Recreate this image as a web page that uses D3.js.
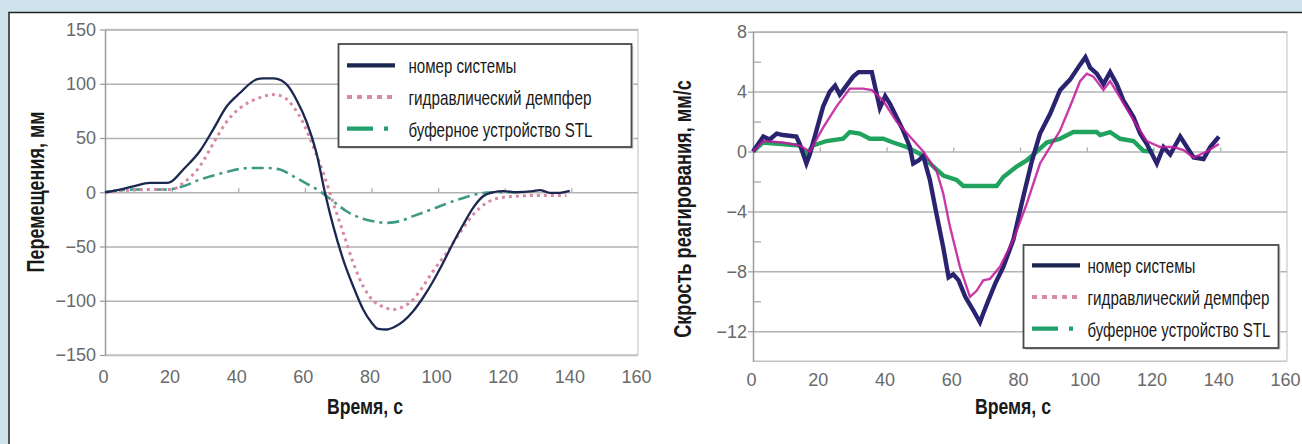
<!DOCTYPE html>
<html><head><meta charset="utf-8">
<script src="https://cdn.jsdelivr.net/npm/d3@7"></script>
<style>body{margin:0;background:#cfe3ed;overflow:hidden} svg{display:block}</style>
</head><body>
<svg id="c" width="1302" height="444"></svg>
<script>
// ---------- data ----------
const xTicks = [0, 20, 40, 60, 80, 100, 120, 140, 160];
const dispTicks = [-150, -100, -50, 0, 50, 100, 150];
const velTicks = [-12, -8, -4, 0, 4, 8];
const velMinorTicks = [-10, -6, -2, 2, 6];
const seriesNames = ["номер системы", "гидравлический демпфер", "буферное устройство STL"];
const dispTitle = "Перемещения, мм";
const velTitle = "Скрость реагирования, мм/с";
const timeTitle = "Время, с";

// displacement, [time s, mm]
const dispSystem = [[0,0],[4.5,2.5],[8.5,5.5],[13.5,8.6],[18.5,8.6],[20,10],[23.5,21],[28.5,38],[32.5,58],[36.5,79],[40.5,91.5],[45.5,104],[47.5,105],[50.5,105],[53,103],[55,97.6],[57.5,85],[60.5,65],[63.5,36],[66,0],[68.5,-31],[71.5,-62],[74.5,-86.6],[77.5,-108],[80,-120],[82,-126],[84.5,-126.5],[87,-124],[89.5,-119],[92.5,-109.6],[95.5,-97],[98.5,-82],[101.5,-65],[104.5,-46.7],[107.5,-30],[110.5,-14.4],[113.5,-3.7],[116.5,0],[119.5,1],[123.5,0],[128.5,1],[130.5,2],[133.5,-0.5],[136.5,-0.5],[139.5,1.2]];
const dispDamper = [[0,0],[8.5,2],[13.5,2.5],[20,2.5],[23.5,8.6],[28.5,24],[32.5,45],[36.5,65],[40.5,77.6],[45.5,86],[50.5,90],[53.5,88],[56.5,79],[59.5,64],[62.5,42],[65.5,18],[68.5,-10],[71.5,-37],[74.5,-65],[77.5,-86.6],[80.5,-100],[83.5,-105.6],[86.5,-108],[89.5,-105.6],[92.5,-99],[95.5,-86.6],[98.5,-72.7],[102.5,-56],[106.5,-37.4],[110.5,-20.6],[114.5,-9.8],[118.5,-5.2],[123.5,-3.7],[128.5,-3],[133.5,-3],[138.5,-3]];
const dispBuffer = [[0,0],[8.5,2.5],[18.5,2.5],[23.5,5.5],[28.5,11.7],[33.5,16.3],[38.5,20.3],[43.5,22.4],[48.5,22.4],[52.5,20.9],[56.5,14.7],[60.5,8],[64.5,1],[68.5,-8.3],[72.5,-17.5],[76.5,-23.6],[80.5,-26.7],[84.5,-28.2],[88.5,-26.7],[92.5,-22],[96.5,-17.5],[100.5,-12.9],[104.5,-8.3],[108.5,-4.3],[112.5,-1.2],[116.5,0],[123.5,0]];

// response velocity, [time s, mm/s]
const velSystem = [[0,0],[3.1,1],[5,0.8],[7.1,1.2],[9,1.1],[13,1],[14,0.5],[16,-0.8],[17,-0.2],[19,1.4],[21,3],[23,4],[24.6,4.4],[26,3.8],[28,4.4],[30,5],[31.6,5.3],[35.6,5.3],[36.6,4.3],[38,2.9],[39.6,3.7],[41,3.2],[43,2.3],[45,1.4],[47,0.3],[48,-0.8],[49.6,-0.6],[51,-0.3],[53,-1.9],[55,-4.2],[57,-6.4],[58.6,-8.4],[60,-8.2],[61.6,-8.6],[63.6,-9.7],[66,-10.6],[68,-11.4],[69,-10.8],[70.6,-9.9],[72.6,-8.8],[75,-7.7],[78,-5.9],[81,-3],[83.6,-0.6],[86,1.2],[89,2.5],[92,4.1],[95,4.8],[98,5.8],[99.6,6.3],[101,5.6],[103,5.2],[105,4.5],[107,5.3],[109,4.5],[111,3.4],[114,2.3],[116,1.2],[118,0.5],[121,-0.8],[123,0.3],[125,-0.2],[128,1],[130,0.3],[132,-0.4],[135,-0.5],[137,0.3],[139.6,1]];
const velDamper = [[0,0],[3.1,0.7],[9,0.6],[14,0.4],[17,0],[21,1.6],[25,3],[29,4.2],[33,4.2],[35.6,4.1],[39,3.4],[43,2],[47,1],[51,0],[55,-1.3],[57,-2.8],[59,-5],[62,-7.7],[65,-9.7],[67,-9.3],[69,-8.6],[71,-8.5],[74,-7.7],[78,-5.9],[82,-3.5],[86,-0.8],[89,0.3],[92,1.4],[95,3],[98,4.7],[100,5.2],[102,5],[105,4.1],[107,4.7],[110,3.6],[114,2.1],[118,0.7],[122,0.3],[126,0.3],[129,0.1],[132,-0.4],[136,0],[139.6,0.5]];
const velBuffer = [[0,0],[3,0.6],[14,0.4],[16,-0.2],[18,0.4],[22,0.7],[27,0.85],[29,1.3],[32,1.2],[35,0.85],[39,0.85],[42,0.6],[46,0.3],[50,-0.15],[54,-1],[57,-1.6],[61,-1.9],[63,-2.3],[73,-2.3],[75,-1.7],[79,-1],[82,-0.6],[85,0],[88,0.6],[92,0.85],[96,1.3],[103,1.3],[104,1.1],[107,1.3],[110,0.85],[114,0.7],[117,0.05],[120,0]];

// ---------- drawing ----------
const svg = d3.select("#c");
const FONT = "'Liberation Sans', Arial, 'DejaVu Sans', sans-serif";
svg.append("rect").attr("x", 0).attr("y", 0).attr("width", 1302).attr("height", 444).attr("fill", "#cfe3ed");
svg.append("rect").attr("x", 9).attr("y", 12.5).attr("width", 1310).attr("height", 450)
  .attr("fill", "#fff").attr("stroke", "#222").attr("stroke-width", 1.5);

// place a text so that its rendered width equals `target` (horizontal condensing via scale)
function fitText(parent, str, x, y, target, size, weight, rotate, anchor) {
  const t = parent.append("text").text(str)
    .attr("font-family", FONT).attr("font-size", size).attr("font-weight", weight || "normal")
    .attr("fill", "#1a1a1a").attr("text-anchor", anchor || "start");
  const n = t.node().getComputedTextLength();
  const sx = target / n;
  t.attr("transform", `translate(${x},${y})${rotate ? " rotate(-90)" : ""} scale(${sx},1)`);
  return t;
}

function panel(cfg) {
  const x = d3.scaleLinear().domain([0, 160]).range([cfg.x0, cfg.x1]);
  const y = d3.scaleLinear().domain(cfg.yDomain).range([cfg.yBottom, cfg.yTop]);
  const g = svg.append("g");

  g.append("path")
    .attr("d", `M${cfg.x0},${cfg.yTop}H${cfg.x1}V${cfg.yBottom}`)
    .attr("fill", "none").attr("stroke", "#cfcfcf").attr("stroke-width", 1.3);

  g.append("g")
    .attr("transform", `translate(${cfg.x0},0)`)
    .call(d3.axisLeft(y).tickValues(cfg.yTicks).tickSize(-(cfg.x1 - cfg.x0)).tickFormat(""))
    .call(s => s.select(".domain").remove())
    .call(s => s.selectAll("line").attr("stroke", "#b3b3b3").attr("stroke-width", 1.5));

  g.append("line").attr("x1", cfg.x0).attr("x2", cfg.x1).attr("y1", cfg.yBottom).attr("y2", cfg.yBottom)
    .attr("stroke", "#c4c4c4").attr("stroke-width", 1.5);

  g.append("g")
    .attr("transform", `translate(${cfg.x0},0)`)
    .call(d3.axisLeft(y).tickValues(cfg.yTicks).tickSize(5).tickPadding(cfg.yPad).tickSizeOuter(0)
      .tickFormat(d => d < 0 ? "\u2212" + Math.abs(d) : d))
    .call(s => s.select(".domain").attr("stroke", "#9a9a9a").attr("stroke-width", 1.5))
    .call(s => s.selectAll("line").attr("stroke", "#9a9a9a").attr("stroke-width", 1.2))
    .call(s => s.selectAll("text").attr("font-family", FONT).attr("font-size", 18).attr("fill", "#6a6a6a"));

  if (cfg.minor) {
    g.append("g")
      .attr("transform", `translate(${cfg.x0},0)`)
      .call(d3.axisRight(y).tickValues(cfg.minor).tickSize(8).tickFormat(""))
      .call(s => s.select(".domain").remove())
      .call(s => s.selectAll("line").attr("stroke", "#a0a0a0").attr("stroke-width", 1.2));
  }

  g.append("g")
    .attr("transform", `translate(0,${y(0)})`)
    .call(d3.axisTop(x).tickValues(xTicks.slice(1, -1)).tickSize(4).tickFormat(""))
    .call(s => s.select(".domain").remove())
    .call(s => s.selectAll("line").attr("stroke", "#a8a8a8").attr("stroke-width", 1.2));

  g.append("g")
    .attr("transform", `translate(0,${cfg.yBottom})`)
    .call(d3.axisBottom(x).tickValues(xTicks).tickSize(0).tickPadding(cfg.xPad))
    .call(s => s.select(".domain").remove())
    .call(s => s.selectAll("text").attr("font-family", FONT).attr("font-size", 18).attr("fill", "#6a6a6a").attr("dx", -2));

  fitText(svg, timeTitle, cfg.xt, 414, 76, 22, "bold");
  fitText(svg, cfg.yTitle, cfg.ytx, cfg.yty, cfg.ytLen, 23, "bold", true, "middle");

  return { x, y, g };
}

// ===== left panel: displacement =====
const L = panel({ x0: 105, x1: 638, yTop: 29.5, yBottom: 355, yDomain: [-150, 150], yTicks: dispTicks,
  yPad: 4, xPad: 15, xt: 327, yTitle: dispTitle, ytx: 44, yty: 192, ytLen: 161 });
const lineL = d3.line().x(d => L.x(d[0])).y(d => L.y(d[1])).curve(d3.curveMonotoneX);
L.g.append("path").datum(dispBuffer).attr("d", lineL).attr("fill", "none")
  .attr("stroke", "#3f9a84").attr("stroke-width", 2.6).attr("stroke-dasharray", "12,5,3,5");
L.g.append("path").datum(dispDamper).attr("d", lineL).attr("fill", "none")
  .attr("stroke", "#d78aa8").attr("stroke-width", 3).attr("stroke-dasharray", "3,4");
L.g.append("path").datum(dispSystem).attr("d", lineL).attr("fill", "none")
  .attr("stroke", "#1d2850").attr("stroke-width", 2.3);

// ===== right panel: velocity =====
const R = panel({ x0: 753, x1: 1287, yTop: 31.7, yBottom: 361.2, yDomain: [-14, 8], yTicks: velTicks,
  yPad: 1, xPad: 12, xt: 975, yTitle: velTitle, ytx: 691, yty: 209, ytLen: 258, minor: velMinorTicks });
const lineR = d3.line().x(d => R.x(d[0])).y(d => R.y(d[1]));
R.g.append("path").datum(velBuffer).attr("d", lineR).attr("fill", "none")
  .attr("stroke", "#1fa35e").attr("stroke-width", 4.4).attr("stroke-linejoin", "miter");
R.g.append("path").datum(velSystem).attr("d", lineR).attr("fill", "none")
  .attr("stroke", "#2a2470").attr("stroke-width", 4.4).attr("stroke-linejoin", "miter");
R.g.append("path").datum(velDamper).attr("d", lineR).attr("fill", "none")
  .attr("stroke", "#c0189a").attr("stroke-width", 2.4).attr("stroke-opacity", 0.85);

// ===== legends =====
function legend(bx, by, bw, bh, sx0, sx1, tx, baselines, widths) {
  const g = svg.append("g");
  g.append("rect").attr("x", bx + 2).attr("y", by + 2).attr("width", bw).attr("height", bh).attr("fill", "#d8d8d8");
  g.append("rect").attr("x", bx).attr("y", by).attr("width", bw).attr("height", bh)
    .attr("fill", "#fff").attr("stroke", "#4a4a4a").attr("stroke-width", 1.8);
  const styles = [
    { stroke: "#1d2850", w: 4.2, dash: null },
    { stroke: "#d78aa8", w: 4, dash: "5,5" },
    { stroke: "#22a06a", w: 4.2, dash: "26,11,4,100" }
  ];
  seriesNames.forEach((name, i) => {
    const yy = baselines[i] - 8;
    g.append("line").attr("x1", sx0).attr("x2", sx1).attr("y1", yy).attr("y2", yy)
      .attr("stroke", styles[i].stroke).attr("stroke-width", styles[i].w)
      .attr("stroke-dasharray", styles[i].dash);
    fitText(g, name, tx, baselines[i], widths[i], 20, "normal");
  });
}
legend(338.5, 44, 293, 103, 347, 395, 408.5, [73.3, 105, 136.7], [108, 183, 184]);
legend(1023.5, 245, 255, 103, 1032, 1080, 1087.5, [273.3, 305, 336.7], [108, 182, 183]);
</script></body></html>
